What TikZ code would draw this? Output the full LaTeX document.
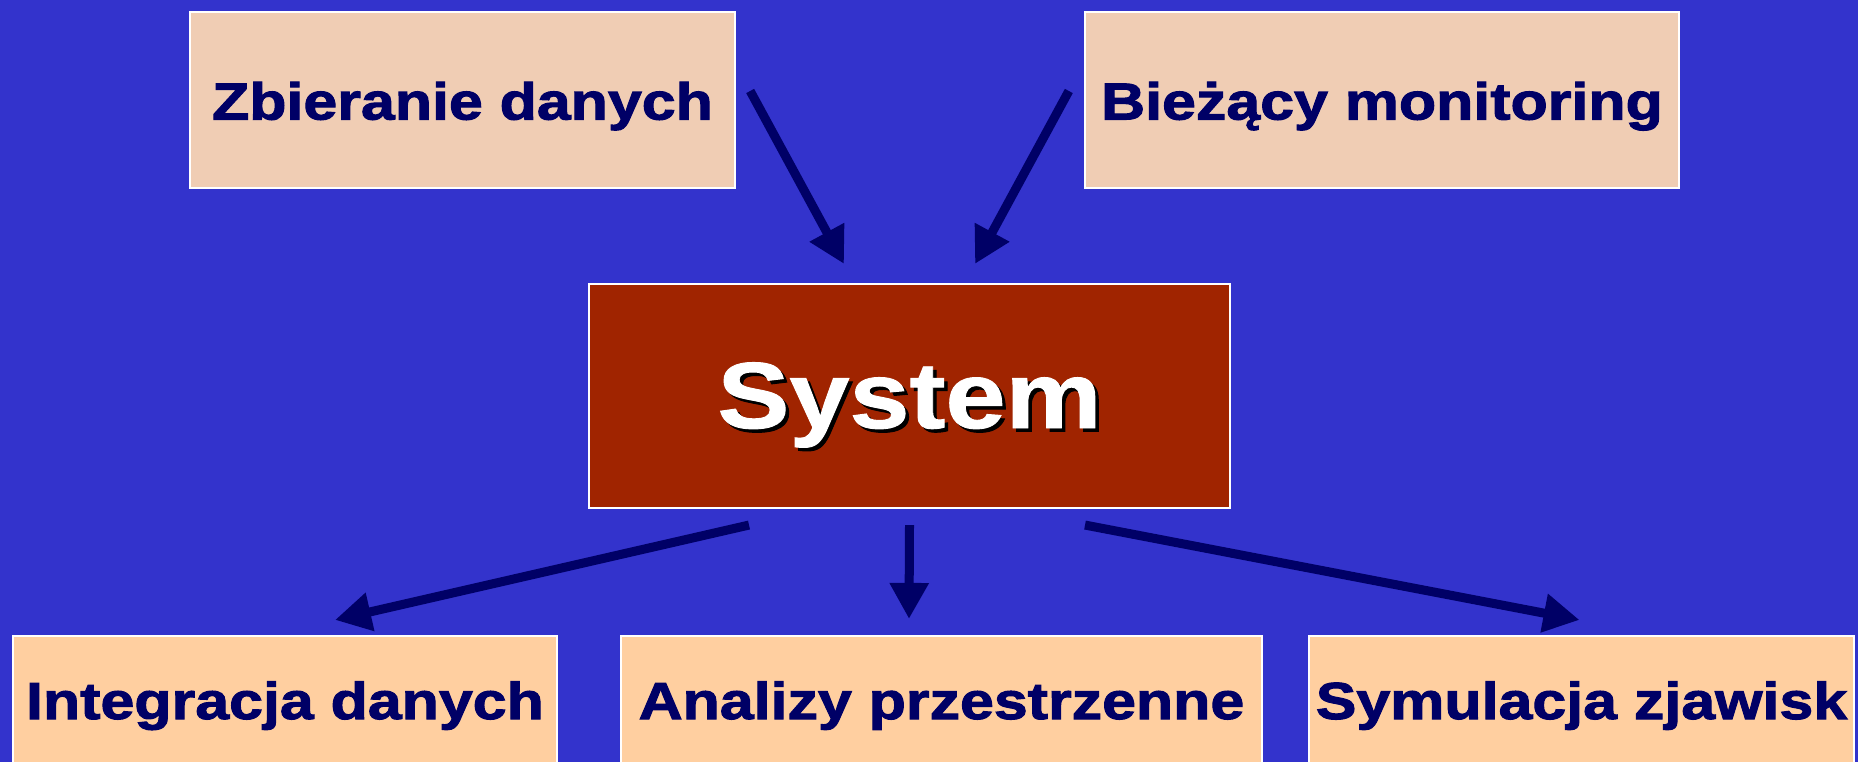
\documentclass[tikz,border=0pt]{standalone}
\usepackage{fontspec}
\setmainfont{Liberation Sans}
\newfontfamily\boxfont[FakeStretch=1.17,BoldFeatures={FakeBold=2}]{Liberation Sans}
\newfontfamily\sysfont[FakeStretch=1.15,BoldFeatures={FakeBold=1}]{Liberation Sans}
\usetikzlibrary{calc,arrows.meta}

\definecolor{bgblue}{RGB}{51,51,204}
\definecolor{navy}{RGB}{0,0,102}
\definecolor{peachtop}{RGB}{240,205,180}
\definecolor{peachbot}{RGB}{255,207,160}
\definecolor{sysred}{RGB}{160,36,0}

\newcommand\shadowtxt[1]{\rlap{\hspace{0.035cm}\raisebox{-0.035cm}{\color{black}#1}}#1}

\tikzset{
  box/.style={draw=white,line width=0.02cm,inner sep=0pt,text=navy,
    font=\boxfont\fontsize{14.8}{17}\selectfont\bfseries,text depth=0pt},
  topbox/.style={box,fill=peachtop,minimum height=1.76cm,text height=0.39cm},
  botbox/.style={box,fill=peachbot,minimum height=1.30cm,text height=0.36cm},
  flow/.style={navy,line width=0.09cm,-{Triangle[length=0.36cm,width=0.37cm]}}
}

\begin{document}
\begin{tikzpicture}[x=0.01cm,y=-0.01cm]
                \fill[bgblue] (0,0) rectangle (1858,762);
                \useasboundingbox (0,0) rectangle (1858,762);

                \node[topbox,minimum width=5.45cm] (zbieranie) at (462.5,100) {Zbieranie danych};
                \node[topbox,minimum width=5.94cm] (monitoring) at (1382,100) {Bieżący monitoring};
                \node[box,fill=sysred,minimum width=6.41cm,minimum height=2.24cm,text=white,text height=0.64cm,
                      font=\sysfont\fontsize{26.7}{30}\selectfont\bfseries] (system) at (909.5,396) {\shadowtxt{System}};

                \node[botbox,minimum width=5.44cm] (integracja) at (285,701) {Integracja danych};
                \node[botbox,minimum width=6.41cm] (analizy) at (941.5,701) {Analizy przestrzenne};
                \node[botbox,minimum width=5.45cm] (symulacja) at (1581.5,701) {Symulacja zjawisk};

                \draw[flow] ($(zbieranie.east)+(14,-9)$) -- ($(system.north)+(-65.5,-19)$);
                \draw[flow] ($(monitoring.west)+(-15,-9)$) -- ($(system.north)+(65.5,-19)$);

                \draw[flow] ($(system.south)+(-160.5,16)$) -- ($(integracja.north)+(50,-15)$);
                \draw[flow] ($(system.south)+(0,16)$) -- ($(analizy.north)+(-32.5,-16)$);
                \draw[flow] ($(system.south)+(175.5,16)$) -- ($(symulacja.north)+(-2,-15)$);
            \end{tikzpicture}
\end{document}
